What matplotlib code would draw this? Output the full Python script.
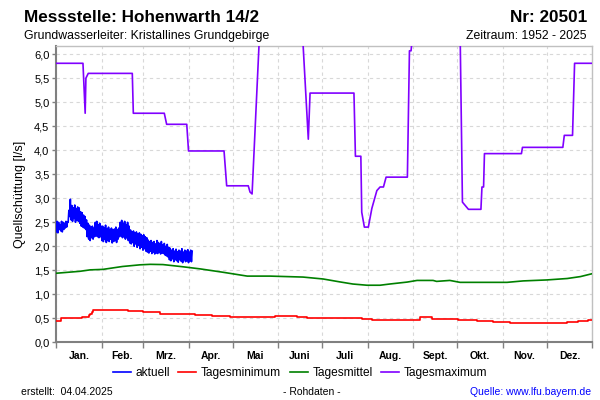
import matplotlib
matplotlib.use("Agg")
import matplotlib.pyplot as plt
import numpy as np

plt.rcParams['font.family'] = ['Liberation Sans', 'DejaVu Sans']

# ---------------- data ----------------
month_labels = ["Jan.", "Feb.", "Mrz.", "Apr.", "Mai", "Juni", "Juli",
                "Aug.", "Sept.", "Okt.", "Nov.", "Dez."]
month_starts = [0, 31, 59, 90, 120, 151, 181, 212, 243, 273, 304, 334, 365]

# aktuell: daily high / low envelope of the current year (days 0..92)
akt_hi = [2.52, 2.50, 2.45, 2.52, 2.50, 2.48, 2.52, 2.50,
          2.75, 2.98,
          2.85, 2.80, 2.86, 2.78, 2.82, 2.80, 2.72,
          2.70, 2.65, 2.62, 2.55,
          2.48, 2.44, 2.40, 2.42, 2.38,
          2.50, 2.52, 2.45, 2.48, 2.42,
          2.42, 2.38, 2.44, 2.36, 2.40, 2.35, 2.38, 2.34, 2.36, 2.40, 2.35, 2.38,
          2.50, 2.54, 2.48, 2.52, 2.45, 2.50, 2.42,
          2.34, 2.30, 2.32, 2.28, 2.30, 2.26, 2.28, 2.25, 2.22, 2.24, 2.20, 2.18,
          2.13, 2.10, 2.12, 2.08, 2.10, 2.05, 2.12, 2.08, 2.05, 2.10, 2.03, 2.06, 2.00, 2.04, 1.98,
          1.96, 1.92, 1.95, 1.90, 1.94, 1.89, 1.92, 1.90, 1.95, 1.88, 1.92, 1.90, 1.93, 1.88, 1.92, 1.90]
akt_lo = [2.30, 2.28, 2.35, 2.32, 2.30, 2.35, 2.38, 2.40,
          2.50, 2.62,
          2.55, 2.52, 2.58, 2.50, 2.55, 2.52, 2.48,
          2.42, 2.40, 2.38, 2.35,
          2.20, 2.15, 2.12, 2.18, 2.15,
          2.20, 2.22, 2.20, 2.18, 2.20,
          2.12, 2.10, 2.15, 2.08, 2.12, 2.10, 2.15, 2.07, 2.10, 2.12, 2.08, 2.15,
          2.20, 2.22, 2.18, 2.20, 2.15, 2.18, 2.12,
          2.07, 2.05, 2.08, 2.00, 2.05, 1.98, 2.02, 1.95, 1.98, 1.92, 1.95, 1.90,
          1.88, 1.86, 1.90, 1.85, 1.88, 1.84, 1.86, 1.85, 1.88, 1.84, 1.86, 1.85, 1.82, 1.80, 1.78,
          1.72, 1.70, 1.74, 1.68, 1.72, 1.70, 1.67, 1.72, 1.69, 1.66, 1.72, 1.68, 1.70, 1.66, 1.70, 1.68]

# Tagesminimum (step breakpoints)
min_days = [0, 3.3, 17.4, 22.0, 23.0, 24.0, 25.0, 48.7, 58.9, 70.5, 73.9, 94.4, 106,
            118, 149, 164, 171, 208, 215, 247.5, 256, 273.7, 286.6, 297.5, 309,
            348, 355, 362, 365]
min_vals = [0.45, 0.50, 0.53, 0.56, 0.60, 0.64, 0.667, 0.645, 0.625, 0.60, 0.583, 0.56, 0.54,
            0.527, 0.548, 0.535, 0.506, 0.48, 0.458, 0.52, 0.48, 0.458, 0.45, 0.417, 0.396,
            0.417, 0.44, 0.465, 0.465]

# Tagesmittel
mit_days = [0, 16, 23, 31.7, 45, 57, 64, 72.6, 86, 98, 113.5, 130, 145.5, 168,
            181.7, 193, 202, 211.6, 220.5, 227, 239, 245.7, 256.6, 259, 268, 275,
            307, 318, 334, 348, 357, 363.6, 365]
mit_vals = [1.44, 1.48, 1.51, 1.52, 1.58, 1.615, 1.625, 1.62, 1.575, 1.53, 1.46, 1.38,
            1.38, 1.36, 1.32, 1.26, 1.215, 1.19, 1.19, 1.215, 1.256, 1.29, 1.29, 1.27,
            1.29, 1.25, 1.25, 1.28, 1.30, 1.33, 1.37, 1.42, 1.43]

# Tagesmaximum
max_days = [0, 18.1, 19.6, 20.1, 21.7, 51.7, 52.4, 73.5, 75.1, 88.8, 90, 114.2, 116,
            130.7, 131.9, 133.3, 138.5, 150, 160, 167.5, 171.6, 172.8, 202.7, 203.7,
            207.4, 208, 209.8, 212.5, 214.9, 218.3, 220.5, 222.8, 224.6, 239.1, 240.5,
            241.6, 243, 255, 265, 275, 276.6, 280.7, 289.2, 289.9, 291, 291.6, 316.8,
            317.5, 345, 346, 351.6, 353, 365]
max_vals = [5.81, 5.81, 4.77, 5.50, 5.60, 5.60, 4.77, 4.77, 4.54, 4.54, 3.985, 3.985, 3.26,
            3.26, 3.13, 3.09, 6.5, 7.5, 7.5, 6.5, 4.23, 5.19, 5.19, 3.875,
            3.875, 2.71, 2.40, 2.40, 2.79, 3.16, 3.235, 3.235, 3.44, 3.44, 6.07,
            6.07, 6.5, 7.5, 7.5, 6.5, 2.92, 2.77, 2.77, 3.235, 3.235, 3.93, 3.93,
            4.06, 4.06, 4.31, 4.31, 5.81, 5.81]

# ---------------- figure ----------------
fig = plt.figure(figsize=(6, 4), dpi=100)
ax = fig.add_axes([0.094, 0.144, 0.893, 0.741])

ax.set_xlim(0, 365)
ax.set_ylim(0, 6.17)

# interleave daily low/high for the noisy current series
akt_x, akt_y = [], []
for i, (lo, hi) in enumerate(zip(akt_lo, akt_hi)):
    akt_x += [i, i + 0.5]
    akt_y += [lo, hi]

l_akt, = ax.plot(akt_x, akt_y, color='#0000ff', lw=1.2, label='aktuell', zorder=5)
l_min, = ax.plot(min_days, min_vals, color='#ff0000', lw=1.2, drawstyle='steps-post',
                 label='Tagesminimum', zorder=4)
l_mit, = ax.plot(mit_days, mit_vals, color='#008000', lw=1.2, label='Tagesmittel', zorder=4)
l_max, = ax.plot(max_days, max_vals, color='#8000ff', lw=1.2, label='Tagesmaximum', zorder=4)

# ticks
yt = np.arange(0, 6.01, 0.5)
ax.set_yticks(yt)
ax.set_yticklabels([f"{v:.1f}".replace('.', ',') for v in yt], fontsize=8)
ax.set_xticks(month_starts)
ax.set_xticklabels([])
mids = [(month_starts[i] + month_starts[i + 1]) / 2 for i in range(12)]
ax.set_xticks(mids, minor=True)
ax.set_xticklabels(month_labels, minor=True, fontsize=7.5, fontweight='bold')
ax.tick_params(axis='x', which='minor', length=0, pad=6)
ax.tick_params(axis='x', which='major', length=4, color='#808080', width=1)
ax.tick_params(axis='y', length=3, color='#808080', width=1, pad=2)

ax.grid(True, which='major', color='#d8d8d8', linestyle=(0, (3, 3)), lw=0.8)

for s in ['left', 'bottom']:
    ax.spines[s].set_color('#808080')
    ax.spines[s].set_linewidth(1.5)
for s in ['top', 'right']:
    ax.spines[s].set_color('#c0c0c0')
    ax.spines[s].set_linewidth(1.0)

ax.set_ylabel("Quellschüttung [l/s]", fontsize=9, labelpad=6)

# header texts
fig.text(0.04, 0.955, "Messstelle: Hohenwarth 14/2", fontsize=12.3, fontweight='bold',
         ha='left', va='center')
fig.text(0.978, 0.955, "Nr: 20501", fontsize=12.3, fontweight='bold', ha='right', va='center')
fig.text(0.04, 0.91, "Grundwasserleiter: Kristallines Grundgebirge", fontsize=8.8,
         ha='left', va='center')
fig.text(0.978, 0.91, "Zeitraum: 1952 - 2025", fontsize=8.8, ha='right', va='center')

# legend
fig.legend(handles=[l_akt, l_min, l_mit, l_max], loc='center', bbox_to_anchor=(0.5, 0.068),
           ncol=4, frameon=False, fontsize=8.6, handlelength=1.5, handletextpad=0.4,
           columnspacing=0.7)

# footer
fig.text(0.035, 0.02, "erstellt:  04.04.2025", fontsize=7.5, ha='left', va='center')
fig.text(0.52, 0.02, "- Rohdaten -", fontsize=7.5, ha='center', va='center')
fig.text(0.985, 0.02, "Quelle: www.lfu.bayern.de", fontsize=7.5, ha='right', va='center',
         color='#0000ff')

fig.savefig("out.png", dpi=100)
